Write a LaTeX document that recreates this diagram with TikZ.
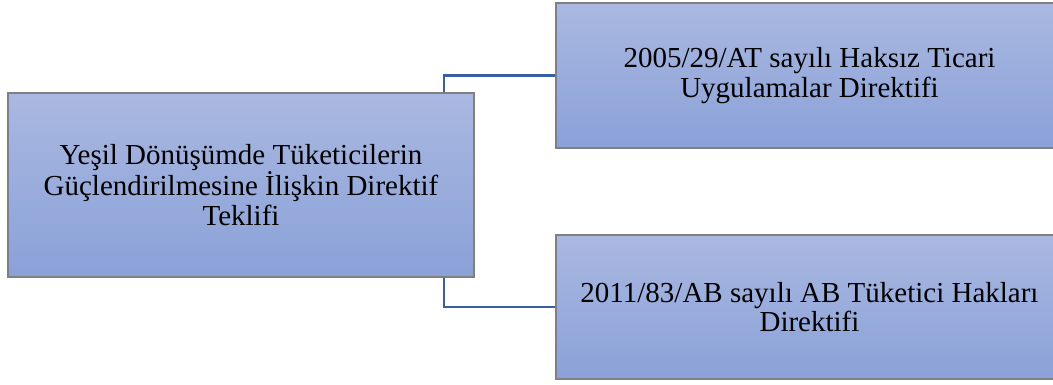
\documentclass[tikz,border=0pt]{standalone}
\usepackage{fontspec}
\setmainfont{Liberation Serif}
\definecolor{boxtop}{HTML}{AAB8E1}
\definecolor{boxbot}{HTML}{8AA1D8}
\definecolor{boxline}{HTML}{808080}
\definecolor{conn}{HTML}{3A5FA0}
\tikzset{
  boxnode/.style={draw=boxline, line width=1.2pt, top color=boxtop, bottom color=boxbot,
    align=center, inner sep=0pt, font=\fontsize{29}{29.5}\selectfont},
  connline/.style={draw=conn, line width=2.6pt}
}
\begin{document}
\begin{tikzpicture}[x=1pt,y=-1pt]
\useasboundingbox (0,0) rectangle (1053,385);
\begin{scope}
\clip (0,0) rectangle (1053,385);
\node[boxnode, minimum width=466pt, minimum height=184pt] (L) at (241,185)
  {Yeşil Dönüşümde Tüketicilerin\\Güçlendirilmesine İlişkin Direktif\\Teklifi};
\node[boxnode, minimum width=507pt, minimum height=145pt] (T) at (809.5,75.5)
  {2005/29/AT sayılı Haksız Ticari\\Uygulamalar Direktifi};
\node[boxnode, minimum width=507pt, minimum height=144pt] (B) at (809.5,307)
  {2011/83/AB sayılı AB Tüketici Hakları\\Direktifi};
\coordinate (jx) at (444,0);
\draw[connline] (L.north -| jx) |- (T.west);
\draw[connline] (L.south -| jx) |- (B.west);
\end{scope}
\end{tikzpicture}
\end{document}
